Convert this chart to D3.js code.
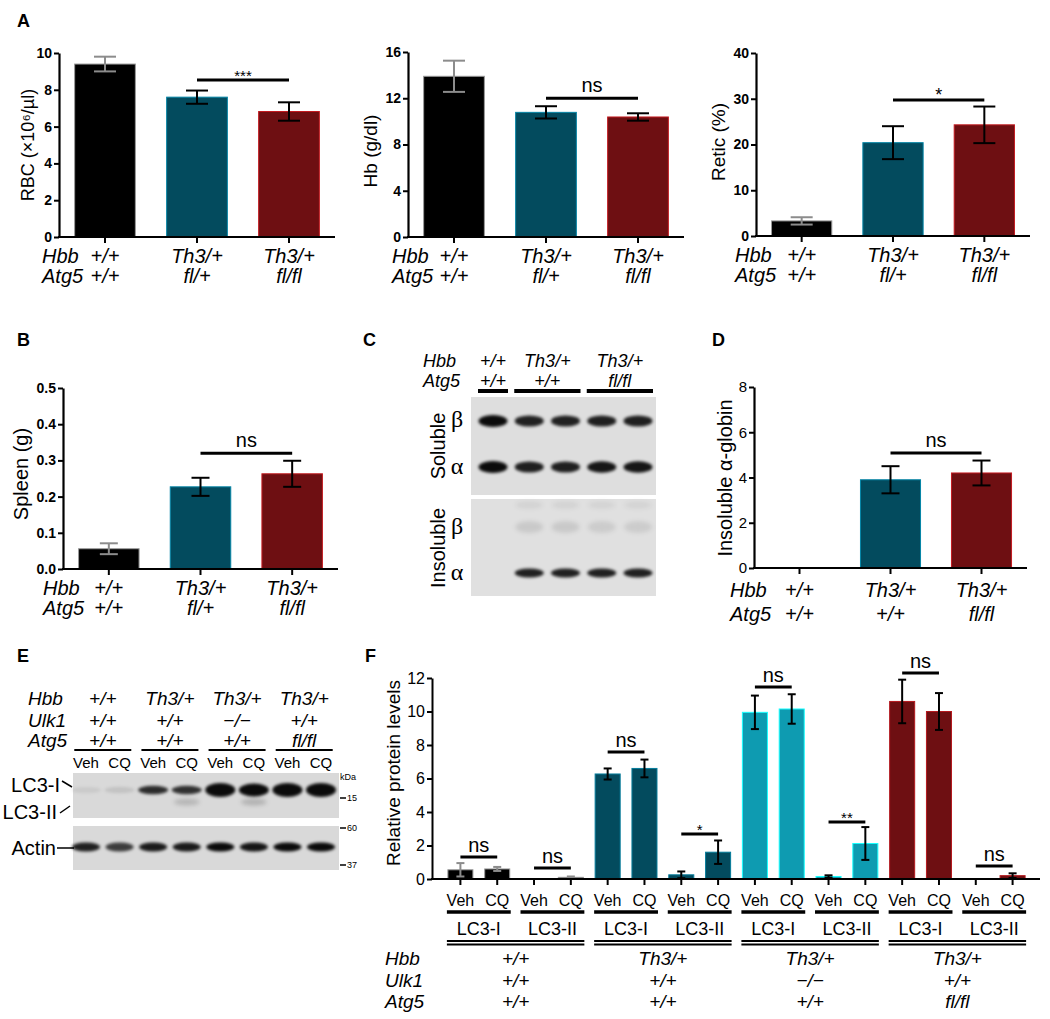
<!DOCTYPE html>
<html><head><meta charset="utf-8">
<script src="https://cdn.jsdelivr.net/npm/d3@7"></script>
<style>
body{margin:0;background:#fff}
svg{display:block}
text{font-family:"Liberation Sans",Arial,Helvetica,sans-serif;fill:#000}
</style>
</head><body>
<svg id="fig" width="1050" height="1019"></svg>
<script>
// ---------------- DATA ----------------
const abGroups = ["WT", "Th3 Atg5 fl/+", "Th3 Atg5 fl/fl"];
const abHbb = ["+/+", "Th3/+", "Th3/+"];
const abAtg5 = ["+/+", "fl/+", "fl/fl"];
const rbcMean = [9.4, 7.6, 6.82];
const rbcErr = [0.4, 0.36, 0.5];
const rbcTicks = [0, 2, 4, 6, 8, 10];
const hbMean = [13.9, 10.78, 10.38];
const hbErr = [1.35, 0.53, 0.32];
const hbTicks = [0, 4, 8, 12, 16];
const reticMean = [3.3, 20.4, 24.3];
const reticErr = [0.8, 3.6, 4.0];
const reticTicks = [0, 10, 20, 30, 40];
const spleenMean = [0.056, 0.227, 0.263];
const spleenErr = [0.015, 0.025, 0.036];
const spleenTicks = [0, 0.1, 0.2, 0.3, 0.4, 0.5];
const dGroups = ["WT", "Th3", "Th3 Atg5 fl/fl"];
const dHbb = ["+/+", "Th3/+", "Th3/+"];
const dAtg5 = ["+/+", "+/+", "fl/fl"];
const insolMean = [0, 3.9, 4.2];
const insolErr = [0, 0.6, 0.55];
const insolTicks = [0, 2, 4, 6, 8];
const sigA = {rbc: [8.53, "***"], hb: [12.0, "ns"], retic: [29.7, "*"], spleen: [0.32, "ns"], insol: [5.08, "ns"]};

// Panel C blot
const cLanes = ["WT", "Th3-a", "Th3-b", "Atg5-a", "Atg5-b"];
const cGroupHbb = ["+/+", "Th3/+", "Th3/+"];
const cGroupAtg5 = ["+/+", "+/+", "fl/fl"];
const cGroupLanes = [[0, 0], [1, 2], [3, 4]];
const solBeta = [1.0, 0.85, 0.85, 0.86, 0.86];
const solAlpha = [1.0, 0.86, 0.86, 0.9, 0.9];
const insolBeta = [0, 0.1, 0.1, 0.09, 0.09];
const insolAlpha = [0, 0.86, 0.86, 0.86, 0.86];

// Panel E blot
const eLanes = ["Veh", "CQ", "Veh", "CQ", "Veh", "CQ", "Veh", "CQ"];
const eHbb = ["+/+", "Th3/+", "Th3/+", "Th3/+"];
const eUlk1 = ["+/+", "+/+", "\u2212/\u2212", "+/+"];
const eAtg5 = ["+/+", "+/+", "+/+", "fl/fl"];
const lc3I = [0.07, 0.1, 0.8, 0.78, 1.0, 0.96, 1.0, 1.0];
const lc3II = [0, 0, 0, 0.16, 0, 0.18, 0, 0];
const actin = [0.85, 0.72, 0.88, 0.88, 0.95, 0.9, 0.95, 0.95];
const kdaMarks = ["15", "60", "37"];

// Panel F
const fGroups = ["WT", "Th3", "Th3 Ulk1-/-", "Th3 Atg5 fl/fl"];
const fMarkers = ["LC3-I", "LC3-II"];
const fTreat = ["Veh", "CQ"];
const fMean = [0.55, 0.6, 0, 0.1, 6.27, 6.6, 0.25, 1.6, 9.95, 10.15, 0.15, 2.12, 10.6, 10.0, 0, 0.2];
const fErr = [0.4, 0.12, 0, 0.05, 0.33, 0.53, 0.2, 0.7, 1.0, 0.88, 0.07, 0.98, 1.3, 1.1, 0, 0.14];
const fSigH = [1.31, 0.66, 7.58, 2.69, 11.46, 3.4, 12.3, 0.78];
const fSigLab = ["ns", "ns", "ns", "*", "ns", "**", "ns", "ns"];
const fTicks = [0, 2, 4, 6, 8, 10, 12];
const fHbb = ["+/+", "Th3/+", "Th3/+", "Th3/+"];
const fUlk1 = ["+/+", "+/+", "\u2212/\u2212", "+/+"];
const fAtg5 = ["+/+", "+/+", "+/+", "fl/fl"];

// ---------------- STYLE ----------------
const C_BLACK = "#000000", C_TEAL = "#034b5e", C_LTEAL = "#0e9bb1", C_RED = "#6e0f12";
const abColors = [C_BLACK, C_TEAL, C_RED];
const fColors = [C_BLACK, C_TEAL, C_LTEAL, C_RED];

const svg = d3.select("#fig");
const defs = svg.append("defs");
defs.append("filter").attr("id", "blur").attr("x", "-50%").attr("y", "-100%").attr("width", "200%").attr("height", "300%")
  .append("feGaussianBlur").attr("stdDeviation", 1.4);
defs.append("filter").attr("id", "blur2").attr("x", "-50%").attr("y", "-100%").attr("width", "200%").attr("height", "300%")
  .append("feGaussianBlur").attr("stdDeviation", 2.2);

function letter(t, x, y) {
  svg.append("text").attr("x", x).attr("y", y).attr("font-size", 18).attr("font-weight", "bold").text(t);
}
function ylabel(t, cx, cy, fs) {
  svg.append("text").attr("transform", `translate(${cx},${cy}) rotate(-90)`).attr("text-anchor", "middle")
    .attr("dy", "0.35em").attr("font-size", fs).text(t);
}
function itext(g, t, x, y, anchor, fs) {
  return g.append("text").attr("x", x).attr("y", y).attr("text-anchor", anchor).attr("font-size", fs)
    .attr("font-style", "italic").text(t);
}

function barPanel(o) {
  const g = svg.append("g");
  const x = d3.scaleBand().domain(o.cats).range([o.x0, o.x1]).paddingInner(0.34).paddingOuter(0.17);
  const y = d3.scaleLinear().domain([0, o.max]).range([o.yBot, o.yTop]);
  const cx = d => x(d) + x.bandwidth() / 2;
  // bars
  g.selectAll("rect.bar").data(o.cats).join("rect").attr("class", "bar")
    .attr("x", d => x(d)).attr("width", x.bandwidth())
    .attr("y", (d, i) => y(o.values[i])).attr("height", (d, i) => y(0) - y(o.values[i]))
    .attr("fill", (d, i) => o.colors[i])
    .attr("stroke", (d, i) => o.values[i] <= 0 ? "none" : (i === 0 ? "#9a9a9a" : d3.color(o.colors[i]).brighter(1.6)))
    .attr("stroke-width", 1);
  // error bars
  o.cats.forEach((d, i) => {
    if (!o.errs[i]) return;
    const col = i === 0 ? "#8c8c8c" : "#000";
    const lo = y(o.values[i] - o.errs[i]), hi = y(o.values[i] + o.errs[i]);
    g.append("line").attr("x1", cx(d)).attr("x2", cx(d)).attr("y1", lo).attr("y2", hi).attr("stroke", col).attr("stroke-width", 2);
    [lo, hi].forEach(v => g.append("line").attr("x1", cx(d) - o.cap / 2).attr("x2", cx(d) + o.cap / 2)
      .attr("y1", v).attr("y2", v).attr("stroke", col).attr("stroke-width", 2));
  });
  // y axis
  const ax = g.append("g").attr("transform", `translate(${o.x0},0)`)
    .call(d3.axisLeft(y).tickValues(o.ticks).tickSize(5).tickSizeOuter(0).tickPadding(2).tickFormat(o.fmt));
  ax.select(".domain").attr("stroke-width", 2.2);
  ax.selectAll(".tick line").attr("stroke-width", 2);
  ax.selectAll(".tick text").attr("font-size", o.tickFs).attr("font-weight", o.bold ? "bold" : "normal").attr("fill", "#111");
  // x axis
  g.append("line").attr("x1", o.x0 - 1).attr("x2", o.x1).attr("y1", y(0)).attr("y2", y(0)).attr("stroke", "#000").attr("stroke-width", 2.2);
  g.selectAll("line.xt").data(o.cats).join("line").attr("class", "xt")
    .attr("x1", cx).attr("x2", cx).attr("y1", y(0)).attr("y2", y(0) + 6).attr("stroke", "#000").attr("stroke-width", 2);
  // significance
  const sy = y(o.sig[0]);
  g.append("line").attr("x1", cx(o.cats[1])).attr("x2", cx(o.cats[2])).attr("y1", sy).attr("y2", sy).attr("stroke", "#000").attr("stroke-width", 3);
  g.append("text").attr("x", (cx(o.cats[1]) + cx(o.cats[2])) / 2).attr("y", o.sig[1] === "ns" ? sy - 6 : sy + 1)
    .attr("text-anchor", "middle").attr("font-size", o.sig[1] === "ns" ? 20 : (o.sig[1] === "***" ? 15 : 18)).text(o.sig[1]);
  // genotype rows
  o.rows.forEach((r, ri) => {
    itext(g, r.name, o.rowX, o.rowY[ri], "start", 20);
    o.cats.forEach((d, i) => itext(g, r.vals[i], cx(d), o.rowY[ri], "middle", 20));
  });
  ylabel(o.ylabel, o.ylx, o.yly, o.ylfs);
}

// ---------------- PANEL A ----------------
letter("A", 17, 27);
barPanel({cats: abGroups, values: rbcMean, errs: rbcErr, colors: abColors, x0: 59, x1: 335, yTop: 53, yBot: 237, max: 10,
  ticks: rbcTicks, fmt: d3.format("d"), tickFs: 14, bold: true, cap: 22, sig: sigA.rbc,
  rows: [{name: "Hbb", vals: abHbb}, {name: "Atg5", vals: abAtg5}], rowX: 42, rowY: [263, 283],
  ylabel: "RBC (\u00d710\u2076/\u00b5l)", ylx: 28, yly: 145, ylfs: 18});
barPanel({cats: abGroups, values: hbMean, errs: hbErr, colors: abColors, x0: 408, x1: 684, yTop: 52, yBot: 237, max: 16,
  ticks: hbTicks, fmt: d3.format("d"), tickFs: 14, bold: true, cap: 22, sig: sigA.hb,
  rows: [{name: "Hbb", vals: abHbb}, {name: "Atg5", vals: abAtg5}], rowX: 392, rowY: [263, 283],
  ylabel: "Hb (g/dl)", ylx: 370, yly: 151, ylfs: 19});
barPanel({cats: abGroups, values: reticMean, errs: reticErr, colors: abColors, x0: 756, x1: 1030, yTop: 53, yBot: 236, max: 40,
  ticks: reticTicks, fmt: d3.format("d"), tickFs: 14, bold: true, cap: 22, sig: sigA.retic,
  rows: [{name: "Hbb", vals: abHbb}, {name: "Atg5", vals: abAtg5}], rowX: 735, rowY: [262, 282],
  ylabel: "Retic (%)", ylx: 718, yly: 142, ylfs: 19});

// ---------------- PANEL B ----------------
letter("B", 17, 346);
barPanel({cats: abGroups, values: spleenMean, errs: spleenErr, colors: abColors, x0: 63, x1: 338, yTop: 388, yBot: 569, max: 0.5,
  ticks: spleenTicks, fmt: d3.format(".1f"), tickFs: 14, bold: true, cap: 18, sig: sigA.spleen,
  rows: [{name: "Hbb", vals: abHbb}, {name: "Atg5", vals: abAtg5}], rowX: 43, rowY: [595, 615],
  ylabel: "Spleen (g)", ylx: 21, yly: 474, ylfs: 20});

// ---------------- PANEL D ----------------
letter("D", 712, 346);
barPanel({cats: dGroups, values: insolMean, errs: insolErr, colors: abColors, x0: 754, x1: 1027, yTop: 387, yBot: 568, max: 8,
  ticks: insolTicks, fmt: d3.format("d"), tickFs: 15, bold: false, cap: 18, sig: sigA.insol,
  rows: [{name: "Hbb", vals: dHbb}, {name: "Atg5", vals: dAtg5}], rowX: 730, rowY: [597, 621],
  ylabel: "Insoluble \u03b1-globin", ylx: 725, yly: 478, ylfs: 20});

// ---------------- BLOT helper ----------------
function bands(g, lane, cats, yc, intens, rx, ryScale, filt) {
  g.selectAll(null).data(cats).join("ellipse")
    .attr("cx", (d, i) => lane(i)).attr("cy", yc)
    .attr("rx", rx).attr("ry", (d, i) => ryScale(intens[i]))
    .attr("fill", "#000").attr("fill-opacity", (d, i) => Math.min(0.95, intens[i]))
    .attr("filter", `url(#${filt || "blur"})`);
}

// ---------------- PANEL C ----------------
letter("C", 363, 346);
{
  const g = svg.append("g");
  const lane = d3.scalePoint().domain(d3.range(cLanes.length)).range([493, 638]);
  itext(g, "Hbb", 423, 367, "start", 18);
  itext(g, "Atg5", 423, 387, "start", 18);
  cGroupLanes.forEach((gl, k) => {
    const c = (lane(gl[0]) + lane(gl[1])) / 2;
    itext(g, cGroupHbb[k], c, 367, "middle", 18);
    itext(g, cGroupAtg5[k], c, 387, "middle", 18);
    g.append("line").attr("x1", lane(gl[0]) - 15).attr("x2", lane(gl[1]) + 15).attr("y1", 391).attr("y2", 391)
      .attr("stroke", "#000").attr("stroke-width", 4);
  });
  g.append("rect").attr("x", 471).attr("y", 397).attr("width", 185).attr("height", 98).attr("fill", "#dedede");
  g.append("rect").attr("x", 471).attr("y", 499).attr("width", 185).attr("height", 97).attr("fill", "#e0e0e0");
  const ry = d3.scaleLinear().domain([0, 1]).range([3, 6]);
  bands(g, lane, cLanes, 421, solBeta, 14.5, ry);
  bands(g, lane, cLanes, 467, solAlpha, 14.5, ry);
  bands(g, lane, cLanes, 527, insolBeta, 14, () => 6, "blur2");
  bands(g, lane, cLanes, 505, insolBeta.map(v => v * 0.6), 14, () => 4, "blur2");
  bands(g, lane, cLanes, 573, insolAlpha, 14.5, () => 4.5);
  ylabel("Soluble", 438, 446, 20);
  ylabel("Insoluble", 438, 548, 20);
  [["\u03b2", 420], ["\u03b1", 467], ["\u03b2", 527], ["\u03b1", 573]].forEach(([t, yy]) =>
    g.append("text").attr("x", 457).attr("y", yy).attr("dy", "0.3em").attr("text-anchor", "middle")
      .style("font-family", '"Liberation Serif","Times New Roman",serif')
      .attr("font-size", 24).text(t));
}

// ---------------- PANEL E ----------------
letter("E", 17, 662);
{
  const g = svg.append("g");
  const lane = d3.scalePoint().domain(d3.range(eLanes.length)).range([86, 321]);
  const rows = [["Hbb", eHbb, 705], ["Ulk1", eUlk1, 727], ["Atg5", eAtg5, 747]];
  rows.forEach(([nm, vals, yy]) => {
    itext(g, nm, 28, yy, "start", 19);
    vals.forEach((v, k) => itext(g, v, (lane(2 * k) + lane(2 * k + 1)) / 2, yy, "middle", 19));
  });
  eHbb.forEach((v, k) => {
    const c = (lane(2 * k) + lane(2 * k + 1)) / 2;
    g.append("line").attr("x1", c - 28.5).attr("x2", c + 28.5).attr("y1", 750).attr("y2", 750).attr("stroke", "#000").attr("stroke-width", 2);
  });
  eLanes.forEach((t, i) => g.append("text").attr("x", lane(i)).attr("y", 768).attr("text-anchor", "middle").attr("font-size", 15).text(t));
  g.append("rect").attr("x", 73).attr("y", 773).attr("width", 266).attr("height", 45).attr("fill", "#d9d9d9");
  g.append("rect").attr("x", 73).attr("y", 826).attr("width", 266).attr("height", 44).attr("fill", "#d9d9d9");
  const ry1 = d3.scaleLinear().domain([0, 0.8, 1]).range([3, 4.2, 7]).clamp(true);
  bands(g, lane, eLanes, 790, lc3I, 15, ry1);
  bands(g, lane, eLanes, 802, lc3II, 13, () => 3.5, "blur2");
  bands(g, lane, eLanes, 847, actin, 14, () => 4.5);
  g.append("text").attr("x", 60).attr("y", 792).attr("text-anchor", "end").attr("font-size", 20).text("LC3-I");
  g.append("line").attr("x1", 62).attr("y1", 781).attr("x2", 72).attr("y2", 787).attr("stroke", "#000").attr("stroke-width", 1.5);
  g.append("text").attr("x", 57).attr("y", 819).attr("text-anchor", "end").attr("font-size", 20).text("LC3-II");
  g.append("line").attr("x1", 60).attr("y1", 813).attr("x2", 70).attr("y2", 806).attr("stroke", "#000").attr("stroke-width", 1.5);
  g.append("text").attr("x", 56).attr("y", 855).attr("text-anchor", "end").attr("font-size", 20).text("Actin");
  g.append("line").attr("x1", 57).attr("y1", 848).attr("x2", 74).attr("y2", 848).attr("stroke", "#000").attr("stroke-width", 1.5);
  g.append("text").attr("x", 340).attr("y", 780).attr("font-size", 9).text("kDa");
  [[kdaMarks[0], 798], [kdaMarks[1], 828], [kdaMarks[2], 865]].forEach(([t, yy]) => {
    g.append("line").attr("x1", 340).attr("x2", 346).attr("y1", yy).attr("y2", yy).attr("stroke", "#000").attr("stroke-width", 1.5);
    g.append("text").attr("x", 347).attr("y", yy + 3).attr("font-size", 9).text(t);
  });
}

// ---------------- PANEL F ----------------
letter("F", 365, 662);
{
  const g = svg.append("g");
  const cats = fGroups.flatMap(gr => fMarkers.flatMap(m => fTreat.map(t => `${gr}|${m}|${t}`)));
  const x = d3.scaleBand().domain(cats).range([442, 1031]).paddingInner(0.32).paddingOuter(0.16);
  const y = d3.scaleLinear().domain([0, 12]).range([879, 678]);
  const cx = d => x(d) + x.bandwidth() / 2;
  const colOf = i => fColors[Math.floor(i / 4)];
  g.selectAll("rect.bar").data(cats).join("rect").attr("class", "bar")
    .attr("x", d => x(d)).attr("width", x.bandwidth())
    .attr("y", (d, i) => y(fMean[i])).attr("height", (d, i) => y(0) - y(fMean[i]))
    .attr("fill", (d, i) => colOf(i))
    .attr("stroke", (d, i) => fMean[i] <= 0 ? "none" : (i < 4 ? "#9a9a9a" : d3.color(colOf(i)).brighter(1.4))).attr("stroke-width", 1);
  cats.forEach((d, i) => {
    if (!fErr[i]) return;
    const col = i < 4 ? "#8c8c8c" : "#000";
    const lo = y(Math.max(0, fMean[i] - fErr[i])), hi = y(fMean[i] + fErr[i]);
    g.append("line").attr("x1", cx(d)).attr("x2", cx(d)).attr("y1", lo).attr("y2", hi).attr("stroke", col).attr("stroke-width", 2);
    [lo, hi].forEach(v => g.append("line").attr("x1", cx(d) - 4).attr("x2", cx(d) + 4).attr("y1", v).attr("y2", v).attr("stroke", col).attr("stroke-width", 2));
  });
  const ax = g.append("g").attr("transform", "translate(432,0)")
    .call(d3.axisLeft(y).tickValues(fTicks).tickSize(5).tickSizeOuter(0).tickPadding(2).tickFormat(d3.format("d")));
  ax.select(".domain").attr("stroke-width", 2);
  ax.selectAll(".tick line").attr("stroke-width", 2);
  ax.selectAll(".tick text").attr("font-size", 16).attr("fill", "#222");
  g.append("line").attr("x1", 431).attr("x2", 1040).attr("y1", y(0)).attr("y2", y(0)).attr("stroke", "#000").attr("stroke-width", 2);
  g.selectAll("line.xt").data(cats).join("line").attr("class", "xt")
    .attr("x1", cx).attr("x2", cx).attr("y1", y(0)).attr("y2", y(0) + 6).attr("stroke", "#000").attr("stroke-width", 2);
  // significance
  fSigH.forEach((h, p) => {
    const a = cats[2 * p], b = cats[2 * p + 1], sy = y(h);
    g.append("line").attr("x1", cx(a)).attr("x2", cx(b)).attr("y1", sy).attr("y2", sy).attr("stroke", "#000").attr("stroke-width", 3);
    const lab = fSigLab[p];
    g.append("text").attr("x", (cx(a) + cx(b)) / 2).attr("y", lab === "ns" ? sy - 5 : sy + 1).attr("text-anchor", "middle")
      .attr("font-size", lab === "ns" ? 20 : 15).text(lab);
  });
  // treatment labels
  cats.forEach((d, i) => g.append("text").attr("x", cx(d)).attr("y", 906).attr("text-anchor", "middle").attr("font-size", 16).text(fTreat[i % 2]));
  // marker pair lines and labels
  fGroups.forEach((gr, gi) => fMarkers.forEach((m, mi) => {
    const a = cats[gi * 4 + mi * 2], b = cats[gi * 4 + mi * 2 + 1];
    g.append("line").attr("x1", x(a) - 1).attr("x2", x(b) + x.bandwidth() + 1).attr("y1", 912).attr("y2", 912).attr("stroke", "#000").attr("stroke-width", 3.5);
    g.append("text").attr("x", (cx(a) + cx(b)) / 2).attr("y", 935).attr("text-anchor", "middle").attr("font-size", 18).text(m);
  }));
  // group double lines
  fGroups.forEach((gr, gi) => {
    const a = cats[gi * 4], b = cats[gi * 4 + 3];
    [941, 944.5].forEach(yy => g.append("line").attr("x1", x(a) - 1).attr("x2", x(b) + x.bandwidth() + 1).attr("y1", yy).attr("y2", yy).attr("stroke", "#000").attr("stroke-width", 2));
  });
  const rows = [["Hbb", fHbb, 965], ["Ulk1", fUlk1, 987], ["Atg5", fAtg5, 1008]];
  rows.forEach(([nm, vals, yy]) => {
    itext(g, nm, 385, yy, "start", 19);
    vals.forEach((v, k) => itext(g, v, (cx(cats[k * 4]) + cx(cats[k * 4 + 3])) / 2, yy, "middle", 19));
  });
  ylabel("Relative protein levels", 393, 773, 19);
}
</script>
</body></html>
